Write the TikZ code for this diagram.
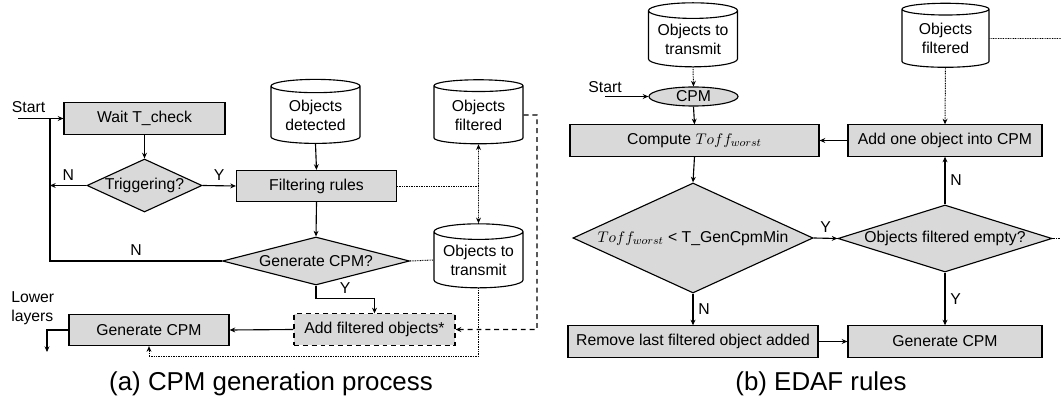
\documentclass[tikz,border=0pt]{standalone}
\usepackage{fontspec}
\setmainfont{Liberation Sans}
\usetikzlibrary{shapes.geometric,arrows.meta,calc}
\tikzset{
  proc/.style={draw, line width=0.8pt, fill=gray!30, minimum height=0.78cm, inner sep=0pt},
  decision/.style={draw, line width=0.8pt, fill=gray!30, diamond, inner sep=0pt},
  store/.style={draw, line width=0.8pt, fill=white, cylinder, shape border rotate=90, aspect=0.22,
    minimum width=2.225cm, minimum height=1.6cm, align=center, inner sep=0pt},
  flow/.style={line width=0.8pt, -{Stealth[length=4pt,width=3.5pt]}},
  link/.style={line width=0.8pt},
  dotlink/.style={line width=0.7pt, dash pattern=on 0.6pt off 0.6pt},
  dashlink/.style={dash pattern=on 3.5pt off 2.8pt},
  caption/.style={font=\fontsize{18.4}{22}\selectfont},
}
\begin{document}
\begin{tikzpicture}[x=0.025cm, y=-0.025cm, font=\fontsize{11.2}{13.5}\selectfont]
	\useasboundingbox (0,0) rectangle (1061,406);
	
	% Draw the CPM generation process
	\node[proc, minimum width=4.025cm] (wait) at (144.5,118.5) {Wait T\_check};
	\node[decision, aspect=2.17, minimum width=2.875cm, minimum height=1.325cm] (trig) at (144.5,185.5) {Triggering?};
	\node[proc, minimum width=4cm] (filt) at (316.5,186) {Filtering rules};
	\node[store] (objdet) at (315.5,115) {Objects\\detected};
	\node[store] (objfilt) at (478.5,115) {Objects\\filtered};
	\node[decision, aspect=3.9, minimum width=4.675cm, minimum height=1.2cm] (gendec) at (316,261) {Generate CPM?};
	\node[store] (objtx) at (478.5,260) {Objects to\\transmit};
	\node[proc, dashlink, minimum width=4.025cm] (addf) at (374.5,329.5) {Add filtered objects*};
	\node[proc, minimum width=4cm] (genA) at (149,330) {Generate CPM};
	\node (startlblA) at (28.5,107) {Start};
	\node[align=left, anchor=west, inner sep=0pt] (lower) at (11,308) {Lower\\layers};
	
	\coordinate (startA) at (18,118.5);
	\coordinate (looptop) at (50,118.5);
	\coordinate (loopbot) at (50,261);
	\coordinate (dashcorner) at (537,115);
	\coordinate (lowerend) at (47,352);
	
	% Draw connectors
	\draw[flow] (startA) -- (wait.west);
	\draw[flow] (wait.south) -- (trig.north);
	\draw[flow] (trig.west) -- node[above] {N} (trig.west -| loopbot);
	\draw[flow] (trig.east) -- node[above] {Y} (filt.west);
	\draw[flow] (objdet.south) -- (filt.north);
	\draw[flow] (filt.south) -- (gendec.north);
	\draw[link] (gendec.west) -- node[above] {N} (loopbot) -- (looptop);
	\draw[flow] (gendec.south) |- node[pos=0.75, above] {Y} ($(addf.north)+(0,-15)$) -- (addf.north);
	\draw[flow] (addf.west) -- (genA.east);
	\draw[flow] (genA.west) -| (lowerend);
	
	% Draw data links
	\draw[dotlink] (filt.east) -- (filt.east -| objfilt.south);
	\draw[dotlink, {Stealth[length=4pt,width=3.5pt]}-{Stealth[length=4pt,width=3.5pt]}] (objfilt.south) -- (objtx.north);
	\draw[dotlink] (gendec.east) -- (objtx.west);
	\draw[flow, dotlink] (objtx.south) -- ++(0,68) -| (genA.south);
	\draw[flow, dashlink] (objfilt.east) -- (dashcorner) |- (addf.east);
	
	% Draw the EDAF rules
	\node[store] (objtxB) at (693,39) {Objects to\\transmit};
	\node[draw, ellipse, fill=gray!30, line width=0.8pt, minimum width=2.225cm, minimum height=0.475cm, inner sep=0pt] (cpm) at (693.5,96.5) {CPM};
	\node[proc, minimum width=6.225cm] (comp) at (694.5,140.5) {Compute $Toff_{worst}$};
	\node[decision, aspect=2.18, minimum width=6cm, minimum height=2.75cm] (cond) at (693,238) {$Toff_{worst}$ < T\_GenCpmMin};
	\node[proc, minimum width=6.25cm] (remove) at (693,341.5) {Remove last filtered object added};
	\node[proc, minimum width=4.85cm] (genB) at (945,341.5) {Generate CPM};
	\node[decision, aspect=3.19, minimum width=5.35cm, minimum height=1.675cm] (empty) at (945,238.5) {Objects filtered empty?};
	\node[proc, minimum width=4.85cm] (addone) at (945,140.5) {Add one object into CPM};
	\node[store, minimum width=2.175cm] (objfiltB) at (945.5,38.5) {Objects\\filtered};
	\node (startlblB) at (605,87) {Start};
	
	\coordinate (startB) at (605,96.5);
	\coordinate (offA) at (1061,38.5);
	\coordinate (offB) at (1061,238.5);
	
	% Draw connectors
	\draw[flow, dotlink] (objtxB.south) -- (cpm.north);
	\draw[flow] (startB) -- (cpm.west);
	\draw[flow] (cpm.south) -- (comp.north);
	\draw[flow] (comp.south) -- (cond.north);
	\draw[flow] (cond.south) -- node[right] {N} (remove.north);
	\draw[flow] (remove.east) -- (genB.west);
	\draw[flow] (cond.east) -- node[above] {Y} (empty.west);
	\draw[flow] (empty.south) -- node[right] {Y} (genB.north);
	\draw[flow] (empty.north) -- node[right] {N} (addone.south);
	\draw[flow] (addone.west) -- (comp.east);
	\draw[flow, dotlink] (objfiltB.south) -- (addone.north);
	\draw[dotlink] (objfiltB.east) -- (offA);
	\draw[dotlink] (empty.east) -- (offB);
	
	% Captions
	\node[caption] (capA) at (271,384) {(a) CPM generation process};
	\node[caption] (capB) at (821,384) {(b) EDAF rules};
	
\end{tikzpicture}
\end{document}
